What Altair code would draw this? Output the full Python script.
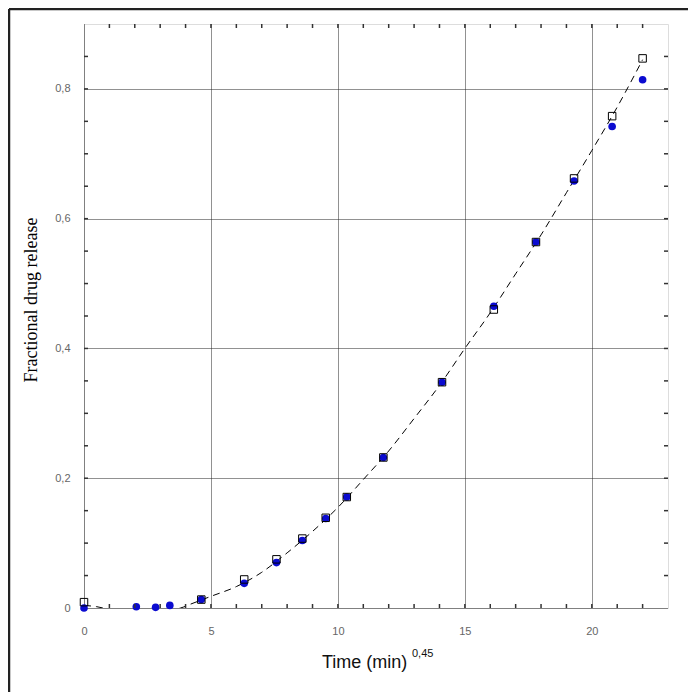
import altair as alt
import pandas as pd

# ---- data ----
x_circle = [0, 2.06, 2.82, 3.38, 4.62, 6.31, 7.58, 8.6, 9.52, 10.35, 11.79, 14.1, 16.14, 17.8, 19.3, 20.8, 22.0]
y_circle = [0.0, 0.002, 0.001, 0.004, 0.013, 0.038, 0.070, 0.104, 0.138, 0.171, 0.232, 0.348, 0.465, 0.564, 0.658, 0.742, 0.814]

x_square = [0, 4.62, 6.31, 7.58, 8.6, 9.52, 10.35, 11.79, 14.1, 16.14, 17.8, 19.3, 20.8, 22.0]
y_square = [0.009, 0.013, 0.044, 0.075, 0.107, 0.139, 0.171, 0.232, 0.348, 0.460, 0.564, 0.662, 0.758, 0.847]

x_fit = [0, 0.5, 1, 2, 3, 3.8, 4.2, 4.6, 5, 6, 7, 8, 9, 10, 11, 12, 13, 14, 15, 16, 17, 18, 19, 20, 21, 22]
y_fit = [0.004, 0.002, -0.002, -0.005, -0.004, 0.0, 0.006, 0.012, 0.018, 0.033, 0.055, 0.085, 0.118,
         0.155, 0.198, 0.242, 0.292, 0.343, 0.400, 0.455, 0.515, 0.575, 0.640, 0.705, 0.772, 0.845]

x_label_values = [0, 5, 10, 15, 20]
y_label_values = [0, 0.2, 0.4, 0.6, 0.8]
x_minor = list(range(1, 23))
y_minor = [0.05, 0.1, 0.15, 0.2, 0.25, 0.3, 0.35, 0.4, 0.45, 0.5, 0.55, 0.6, 0.65, 0.7, 0.75, 0.8, 0.85]

y_title = ["Fractional drug release"]
x_title = ["Time (min)"]
x_title_sup = ["0,45"]

W, H = 584, 584

circles = pd.DataFrame({"x": x_circle, "y": y_circle})
squares = pd.DataFrame({"x": x_square, "y": y_square})
fit = pd.DataFrame({"x": x_fit, "y": y_fit})
xt = pd.DataFrame({"v": x_minor})
yt = pd.DataFrame({"v": y_minor})

xs = alt.Scale(domain=[0, 23], nice=False, zero=False)
ys = alt.Scale(domain=[0, 0.9], nice=False, zero=False)

label_expr = "datum.value == 0 ? '0' : replace(format(datum.value, '.1f'), '.', ',')"
label_expr_x = "format(datum.value, 'd')"

xaxis = alt.Axis(values=x_label_values, grid=True, gridDash=[1, 1], gridColor="#222", gridWidth=1,
                 ticks=False, tickSize=0, domain=False, labelPadding=17, labelFont="Liberation Sans",
                 labelFontSize=11, labelColor="#666", title=None, labelExpr=label_expr_x,
                 labelFlush=False)
yaxis = alt.Axis(values=y_label_values, grid=True, gridDash=[1, 1], gridColor="#222", gridWidth=1,
                 ticks=False, tickSize=0, domain=False, labelPadding=14, labelFont="Liberation Sans",
                 labelFontSize=11, labelColor="#666", title=None, labelExpr=label_expr,
                 labelFlush=False)

X = alt.X("x:Q", scale=xs, axis=xaxis)
Y = alt.Y("y:Q", scale=ys, axis=yaxis)

line = alt.Chart(fit).mark_line(color="black", strokeWidth=1, strokeDash=[7, 5],
                                interpolate="monotone", clip=True).encode(x=X, y=Y, order="x:Q")
pts_c = alt.Chart(circles).mark_point(shape="circle", filled=True, color="#0b0bd0",
                                      size=58, opacity=1).encode(x=X, y=Y)
pts_s = alt.Chart(squares).mark_point(shape="square", filled=False, color="black",
                                      strokeWidth=1, size=56, opacity=1).encode(x=X, y=Y)

tick_style = dict(color="#333", strokeWidth=1.5)
tb = alt.Chart(xt).mark_rule(**tick_style).encode(
    x=alt.X("v:Q", scale=xs, axis=xaxis), y=alt.value(H), y2=alt.value(H - 4))
tt = alt.Chart(xt).mark_rule(**tick_style).encode(
    x=alt.X("v:Q", scale=xs, axis=xaxis), y=alt.value(0), y2=alt.value(4))
tl = alt.Chart(yt).mark_rule(**tick_style).encode(
    y=alt.Y("v:Q", scale=ys, axis=yaxis), x=alt.value(0), x2=alt.value(4))
tr = alt.Chart(yt).mark_rule(**tick_style).encode(
    y=alt.Y("v:Q", scale=ys, axis=yaxis), x=alt.value(W), x2=alt.value(W - 4))

dummy = pd.DataFrame({"a": [0]})
frame_left = alt.Chart(dummy).mark_rule(color="#222", strokeWidth=2.5).encode(
    x=alt.value(-75), y=alt.value(-15), y2=alt.value(680))
frame_top = alt.Chart(dummy).mark_rule(color="#222", strokeWidth=2.5).encode(
    y=alt.value(-15), x=alt.value(-75), x2=alt.value(620))

ytitle = alt.Chart(pd.DataFrame({"t": y_title})).mark_text(
    font="Liberation Serif", fontSize=18, color="black", angle=270, align="center",
    baseline="alphabetic").encode(x=alt.value(-47), y=alt.value(276), text="t:N")
xtitle = alt.Chart(pd.DataFrame({"t": x_title})).mark_text(
    font="Liberation Sans", fontSize=18, color="#111", align="left",
    baseline="alphabetic").encode(x=alt.value(238), y=alt.value(644), text="t:N")
xsup = alt.Chart(pd.DataFrame({"t": x_title_sup})).mark_text(
    font="Liberation Sans", fontSize=11, color="#111", align="left",
    baseline="alphabetic").encode(x=alt.value(328), y=alt.value(633), text="t:N")

chart = alt.layer(
    line, pts_c, pts_s, tb, tt, tl, tr, frame_left, frame_top, ytitle, xtitle, xsup
).properties(
    width=W, height=H, autosize="none",
    padding={"left": 76, "top": 16, "right": 20, "bottom": 84},
).configure_view(stroke="#444", strokeWidth=2).configure(background="white")

chart.save("out.html", embed_options={"renderer": "svg", "actions": False})
